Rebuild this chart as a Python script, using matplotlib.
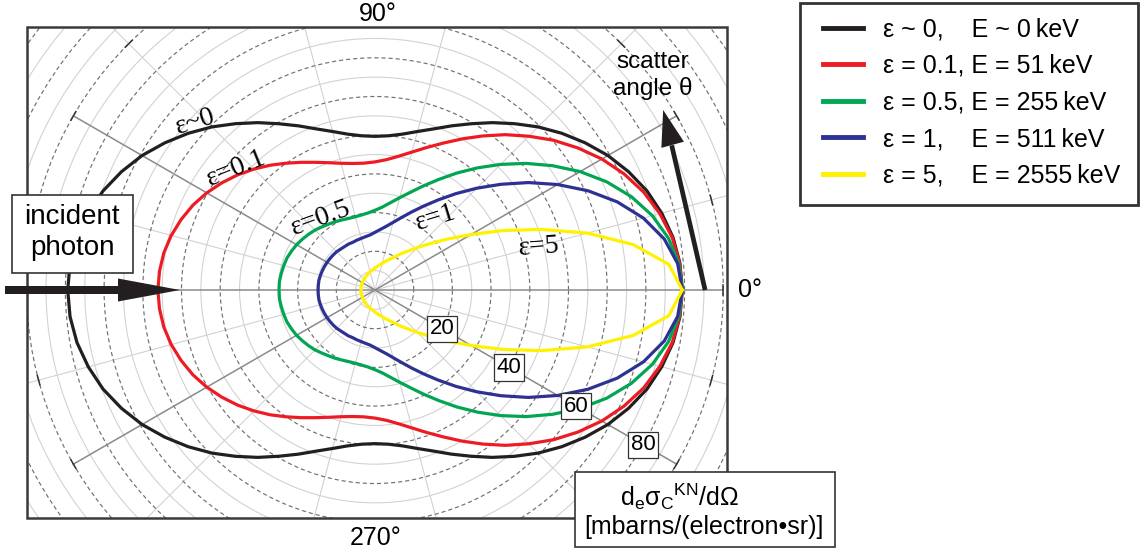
import numpy as np
import matplotlib
matplotlib.use('Agg')
import matplotlib.pyplot as plt
from matplotlib.patches import Rectangle, FancyArrow

plt.rcParams['font.family'] = ['Liberation Sans', 'DejaVu Sans']

# scatter angle (deg) and cross section d_e sigma_C^KN / dOmega (mbarn/(electron sr)),
# read off the chart every 5 deg from 0 to 180 (the picture is mirror symmetric)
theta_deg = np.arange(0, 181, 5)
xs_eps0 = [79.4, 79.1, 78.2, 76.7, 74.8, 72.3, 69.5, 66.3, 63.0, 59.6, 56.1, 52.8, 49.6,
           46.8, 44.3, 42.4, 40.9, 40.0, 39.7, 40.0, 40.9, 42.4, 44.3, 46.8, 49.6, 52.8,
           56.1, 59.6, 63.0, 66.3, 69.5, 72.3, 74.8, 76.7, 78.2, 79.1, 79.4]
xs_eps01 = [79.4, 79.0, 78.0, 76.2, 73.9, 71.0, 67.7, 64.0, 60.2, 56.2, 52.4, 48.6, 45.1,
            41.9, 39.2, 36.9, 35.1, 33.8, 33.1, 32.9, 33.2, 33.9, 35.0, 36.4, 38.1, 40.0,
            42.1, 44.2, 46.3, 48.3, 50.2, 51.9, 53.3, 54.5, 55.4, 55.9, 56.1]
xs_eps05 = [79.4, 78.8, 77.0, 74.2, 70.5, 66.1, 61.2, 56.0, 50.9, 45.9, 41.2, 36.9, 33.0,
            29.7, 26.9, 24.7, 22.9, 21.5, 20.6, 20.0, 19.7, 19.6, 19.7, 20.0, 20.4, 20.8,
            21.3, 21.9, 22.4, 22.9, 23.4, 23.8, 24.2, 24.4, 24.6, 24.8, 24.8]
xs_eps1 = [79.4, 78.5, 75.9, 71.8, 66.6, 60.7, 54.5, 48.4, 42.5, 37.2, 32.5, 28.4, 25.0,
           22.2, 19.9, 18.1, 16.7, 15.7, 14.9, 14.3, 14.0, 13.8, 13.7, 13.6, 13.7, 13.7,
           13.8, 14.0, 14.1, 14.2, 14.3, 14.4, 14.5, 14.6, 14.7, 14.7, 14.7]
xs_eps5 = [79.4, 76.2, 67.7, 56.8, 45.8, 36.3, 28.7, 23.0, 18.7, 15.5, 13.1, 11.3, 9.8,
           8.7, 7.9, 7.1, 6.6, 6.1, 5.7, 5.4, 5.1, 4.9, 4.7, 4.5, 4.3, 4.2, 4.1, 4.0,
           3.9, 3.8, 3.8, 3.7, 3.7, 3.7, 3.7, 3.6, 3.6]
series = [xs_eps0, xs_eps01, xs_eps05, xs_eps1, xs_eps5]

eps_text = ['ε ~ 0,', 'ε = 0.1,', 'ε = 0.5,', 'ε = 1,', 'ε = 5,']
energy_text = ['E ~ 0\u2009keV', 'E = 51\u2009keV', 'E = 255\u2009keV', 'E = 511\u2009keV',
               'E = 2555\u2009keV']
gaps = ['    ', ' ', ' ', '    ', '    ']
curve_tags = ['ε~0', 'ε=0.1', 'ε=0.5', 'ε=1', 'ε=5']
colors = ['#231f20', '#ed1c24', '#00a651', '#2e3192', '#fff200']
r_labels = [20, 40, 60, 80]

W, H = 1141, 557
fig = plt.figure(figsize=(W / 100, H / 100), dpi=100)

# polar axes placed so that the pole sits at pixel (375, 290)
cx, cy, scale, rmax = 375, 290, 3.87, 115
R = rmax * scale
ax = fig.add_axes([(cx - R) / W, (H - cy - R) / H, 2 * R / W, 2 * R / H], projection='polar')
ax.set_ylim(0, rmax)
ax.patch.set_visible(False)
for sp in ax.spines.values():
    sp.set_visible(False)
ax.set_xticks(np.deg2rad(np.arange(15, 360, 30)))
ax.set_yticks(np.arange(10, 111, 10))
ax.set_yticks(np.arange(5, 116, 10), minor=True)
ax.set_xticklabels([])
ax.set_yticklabels([])
ax.set_yticklabels([], minor=True)
ax.tick_params(which='both', length=0)
ax.xaxis.grid(True, color='#d2d2d2', lw=0.8, ls='-')
ax.yaxis.grid(True, which='major', color='#707070', lw=0.85, ls=(0, (3.5, 2.5)))
ax.yaxis.grid(True, which='minor', color='#d2d2d2', lw=0.8, ls='-')

# darker spokes and small ticks on the 90 mb circle
for a in [0, 30, 150, 180, 210, 330]:
    ax.plot(np.deg2rad([a, a]), [0, 90], color='#8a8a8a', lw=1.1, zorder=3)
for a in np.arange(0, 360, 15):
    ax.plot(np.deg2rad([a - 0.8, a + 0.8]), [90, 90], color='#333333', lw=1.1, zorder=3)

th = np.deg2rad(np.concatenate([theta_deg, 360 - theta_deg[::-1]]))
curves = []
for vals, c in zip(series, colors):
    ln, = ax.plot(th, list(vals) + list(vals)[::-1], color=c, lw=2.3, zorder=5)
    curves.append(ln)

for v in r_labels:
    ax.text(np.deg2rad(330), v, str(v), ha='center', va='center', fontsize=16, zorder=6,
            bbox=dict(boxstyle='square,pad=0.12', fc='white', ec='#333333', lw=0.9))

# scatter angle arrow
ax.plot(np.deg2rad([0, 26]), [85.3, 85.3], color='#231f20', lw=3.4, solid_capstyle='butt', zorder=6)
ax.annotate('', xy=(np.deg2rad(32), 87.8), xytext=(np.deg2rad(25), 85.3),
            arrowprops=dict(arrowstyle='-|>,head_length=1.3,head_width=0.42', mutation_scale=20,
                            color='#231f20', lw=0, shrinkA=0, shrinkB=0), zorder=6)

labels = [e + g + en for e, g, en in zip(eps_text, gaps, energy_text)]
leg = ax.legend(curves, labels, loc='upper left', bbox_to_anchor=(823 / W, 1 - 17.5 / H),
                bbox_transform=fig.transFigure, fontsize=18, frameon=False,
                borderpad=0, handlelength=1.6, handletextpad=0.8,
                labelspacing=0.5, borderaxespad=0)
for ln in leg.get_lines():
    ln.set_linewidth(3.5)

# overlay in pixel units for the frame, boxes and annotations
ov = fig.add_axes([0, 0, 1, 1])
ov.set_xlim(0, W)
ov.set_ylim(H, 0)
ov.axis('off')

clip = Rectangle((27, 27), 700, 491, transform=ov.transData)
for art in ax.lines:
    art.set_clip_path(clip)
ax.xaxis.set_clip_path(clip)
ax.yaxis.set_clip_path(clip)

ov.add_patch(Rectangle((27, 27), 700, 491, fill=False, ec='#3a3a3a', lw=1.8, zorder=2))
ov.add_patch(Rectangle((800, 3), 338, 202, fill=False, ec='#333333', lw=2, zorder=2))

ov.text(378, 14, '90°', ha='center', va='center', fontsize=18)
ov.text(376, 538, '270°', ha='center', va='center', fontsize=18)
ov.text(750, 290, '0°', ha='center', va='center', fontsize=18)
ov.text(653, 62, 'scatter', ha='center', va='center', fontsize=17.5)
ov.text(653, 88, 'angle θ', ha='center', va='center', fontsize=17.5)

tag_pos = [(195, 122, 17), (236, 168, 22), (321, 218, 20), (436, 218, 17), (539, 247, 4)]
for t, (x, y, rot) in zip(curve_tags, tag_pos):
    ov.text(x, y, t, ha='center', va='center', fontsize=20, rotation=rot,
            family=['Liberation Serif', 'DejaVu Serif'])

ov.add_patch(Rectangle((12, 195), 121, 78, fc='white', ec='#333333', lw=1.2, zorder=4))
ov.text(72, 217, 'incident', ha='center', va='center', fontsize=20, zorder=5)
ov.text(72, 248, 'photon', ha='center', va='center', fontsize=20, zorder=5)
ov.add_patch(FancyArrow(5, 290, 175, 0, width=8, head_width=23, head_length=62,
                        length_includes_head=True, fc='#231f20', ec='none', zorder=5))

ov.add_patch(Rectangle((575, 472), 260, 75, fc='white', ec='#333333', lw=1.2, zorder=4))
ov.text(680, 497, r'd$_\mathregular{e}$σ$_\mathregular{C}$$^\mathregular{KN}$/dΩ',
        ha='center', va='center', fontsize=18, zorder=5)
ov.text(704, 527, '[mbarns/(electron•sr)]', ha='center', va='center', fontsize=18, zorder=5)

fig.savefig('out.png', dpi=100)
